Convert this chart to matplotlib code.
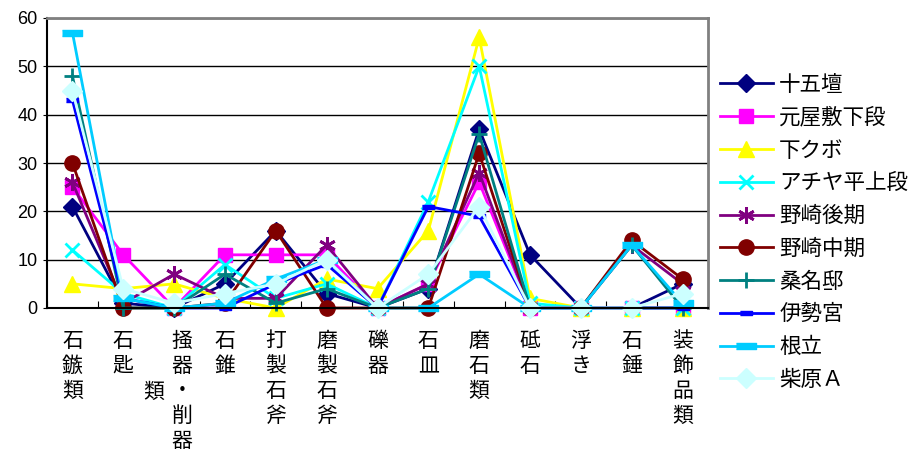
import matplotlib
matplotlib.use("Agg")
import matplotlib.pyplot as plt
import numpy as np

plt.rcParams['font.family'] = ['Noto Sans CJK JP', 'DejaVu Sans']

categories = ["石鏃類", "石匙類", "掻器・削器", "石錐", "打製石斧", "磨製石斧", "礫器",
              "石皿", "磨石類", "砥石", "浮き", "石錘", "装飾品類"]

s_jugodan     = [21, 1, 0, 5, 16, 3, 0, 4, 37, 11, 0, 0, 5]
s_motoyashiki = [25, 11, 0, 11, 11, 11, 0, 5, 26, 0, 0, 0, 0]
s_shimokubo   = [5, 4, 5, 2, 0, 6, 4, 16, 56, 2, 0, 0, 0]
s_achiya      = [12, 3, 0, 9, 2, 5, 0, 22, 50, 1, 0, 0, 0]
s_nozaki_late = [26, 1, 7, 2, 2, 13, 0, 5, 28, 0, 0, 13, 5]
s_nozaki_mid  = [30, 0, 0, 1, 16, 0, 0, 0, 32, 0, 0, 14, 6]
s_kuwana      = [48, 0, 0, 7, 1, 4, 0, 4, 36, 0, 0, 13, 0]
s_isemiya     = [43, 2, 0, 0, 5, 9, 0, 21, 19, 0, 0, 0, 0]
s_nedachi     = [57, 2, 0, 1, 6, 10, 0, 0, 7, 0, 0, 13, 1]
s_shibahara   = [45, 4, 1, 3, 5, 10, 0, 7, 21, 0, 0, 0, 3]

series_names = ["十五壇", "元屋敷下段", "下クボ", "アチヤ平上段", "野崎後期",
                "野崎中期", "桑名邸", "伊勢宮", "根立", "柴原Ａ"]
series_values = [s_jugodan, s_motoyashiki, s_shimokubo, s_achiya, s_nozaki_late,
                 s_nozaki_mid, s_kuwana, s_isemiya, s_nedachi, s_shibahara]
y_ticks = [0, 10, 20, 30, 40, 50, 60]

bar_small = [(-1, -0.35), (1, -0.35), (1, 0.35), (-1, 0.35)]
bar_big = [(-1, -0.3), (1, -0.3), (1, 0.3), (-1, 0.3)]
styles = [
    dict(color="#000080", marker="D", ms=9),
    dict(color="#FF00FF", marker="s", ms=10),
    dict(color="#FFFF00", marker="^", ms=11),
    dict(color="#00FFFF", marker="x", ms=10, mew=2),
    dict(color="#800080", marker=(6, 2, 0), ms=12, mew=2),
    dict(color="#800000", marker="o", ms=11),
    dict(color="#008080", marker="+", ms=12, mew=2),
    dict(color="#0000FF", marker=bar_small, ms=9),
    dict(color="#00CCFF", marker=bar_big, ms=14),
    dict(color="#CCFFFF", marker="D", ms=10),
]

W, H = 921, 457
fig = plt.figure(figsize=(W / 100, H / 100), dpi=100)
ax = fig.add_axes([47 / W, 1 - 308 / H, (708 - 47) / W, (308 - 18) / H])

x = np.arange(len(categories))
for name, vals, st in zip(series_names, series_values, styles):
    ax.plot(x, vals, color=st["color"], lw=2, marker=st["marker"], ms=st["ms"],
            mew=st.get("mew", 1), mec=st["color"], mfc=st["color"], label=name,
            clip_on=False)

ax.set_xlim(-0.5, len(categories) - 0.5)
ax.set_ylim(0, 60)
ax.set_yticks(y_ticks)
ax.set_yticklabels([str(v) for v in y_ticks], fontsize=13, family=["Liberation Sans"])
ax.yaxis.grid(True, color="#000000", lw=1)
ax.set_axisbelow(True)
ax.set_xticks(np.arange(-0.5, len(categories), 1.0))
ax.set_xticklabels([])
ax.tick_params(axis="x", direction="in", length=5, color="#000000")
ax.tick_params(axis="y", direction="out", length=3, pad=4)
for sp in ["left", "bottom"]:
    ax.spines[sp].set_color("#000000")
    ax.spines[sp].set_linewidth(1.5)
for sp in ["top", "right"]:
    ax.spines[sp].set_color("#808080")
    ax.spines[sp].set_linewidth(2)

# vertical category labels
fs_cat = 15
ls_cat = 1.18
row = 25.5
label_top = 1 - 330 / H
trans = matplotlib.transforms.blended_transform_factory(ax.transData, fig.transFigure)
offsets = {2: 0.16}
for i, name in enumerate(categories):
    if name == "石匙類":
        ax.text(i, label_top, "石\n匙", transform=trans, ha="center", va="top",
                fontsize=fs_cat, linespacing=ls_cat)
        ax.text(i + 0.6, label_top - 2 * row / H, "類", transform=trans, ha="center",
                va="top", fontsize=fs_cat)
        continue
    ax.text(i + offsets.get(i, 0), label_top, "\n".join(name), transform=trans,
            ha="center", va="top", fontsize=fs_cat, linespacing=ls_cat)

leg = fig.legend(loc="upper left", bbox_to_anchor=(720 / W, 1 - 74 / H),
                 frameon=False, fontsize=15.5, handlelength=2.45, labelspacing=0.5,
                 borderpad=0, borderaxespad=0, handletextpad=0.3)

fig.savefig("out.png", dpi=100)
